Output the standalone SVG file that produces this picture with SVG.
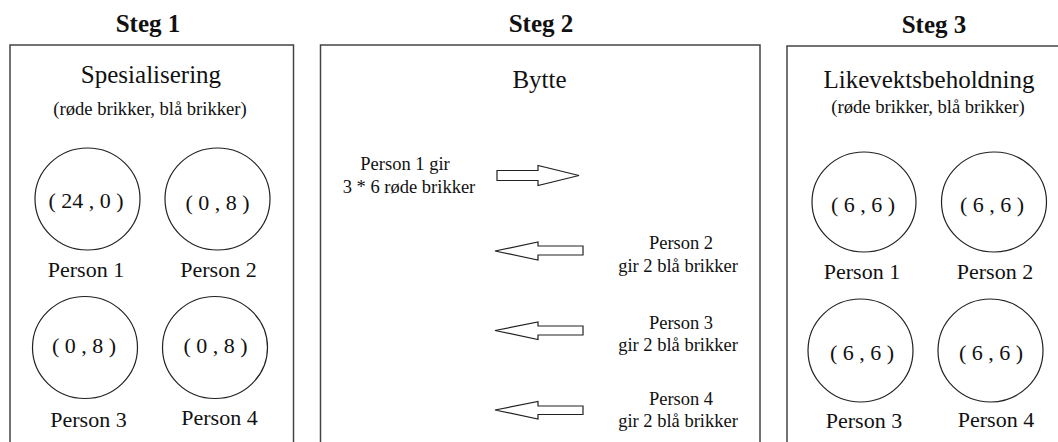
<svg xmlns="http://www.w3.org/2000/svg" width="1058" height="442" viewBox="0 0 1058 442">
  <style>
    text { font-family: "Liberation Serif", "Times New Roman", serif; fill: #111; text-anchor: middle; }
    .step { font-weight: bold; font-size: 25px; }
    .head { font-size: 25px; }
    .sub { font-size: 18.6px; }
    .val { font-size: 22px; }
    .name { font-size: 22px; }
    .note { font-size: 18.5px; }
    .panel { fill: #fff; stroke: #444; stroke-width: 1.5; }
    .person { fill: #fff; stroke: #222; stroke-width: 1.2; }
    .arrow { fill: #fff; stroke: #222; stroke-width: 1.2; stroke-linejoin: miter; }
  </style>
  <rect width="1058" height="442" fill="#fff"/>

  <g font-family="Liberation Serif, Times New Roman, serif">
  <!-- step titles -->
  <text class="step" x="148" y="32">Steg 1</text>
  <text class="step" x="541" y="32">Steg 2</text>
  <text class="step" x="934" y="33">Steg 3</text>

  <!-- panel 1: specialisation -->
  <g id="panel1">
    <rect class="panel" x="10" y="45" width="283.5" height="420"/>
    <text class="head" x="151" y="83">Spesialisering</text>
    <text class="sub" x="150" y="115">(røde brikker, blå brikker)</text>
  </g>
  <g id="p1-person1">
    <ellipse class="person" cx="87.5" cy="199" rx="52.5" ry="51"/>
    <text class="val" x="86" y="208" xml:space="preserve">( 24 , 0 )</text>
    <text class="name" x="86" y="277">Person 1</text>
  </g>
  <g id="p1-person2">
    <ellipse class="person" cx="217.5" cy="199" rx="52.5" ry="51"/>
    <text class="val" x="217.5" y="210" xml:space="preserve">( 0 , 8 )</text>
    <text class="name" x="218.5" y="277">Person 2</text>
  </g>
  <g id="p1-person3">
    <ellipse class="person" cx="85" cy="347.5" rx="52.5" ry="51"/>
    <text class="val" x="84" y="353" xml:space="preserve">( 0 , 8 )</text>
    <text class="name" x="88.5" y="427">Person 3</text>
  </g>
  <g id="p1-person4">
    <ellipse class="person" cx="215" cy="347.5" rx="52.5" ry="51"/>
    <text class="val" x="215.5" y="353" xml:space="preserve">( 0 , 8 )</text>
    <text class="name" x="219.5" y="425">Person 4</text>
  </g>

  <!-- panel 2: exchange -->
  <g id="panel2">
    <rect class="panel" x="320.5" y="45" width="439.5" height="420"/>
    <text class="head" x="539.5" y="88">Bytte</text>
    <text class="note" x="405" y="170">Person 1 gir</text>
    <text class="note" x="409" y="193">3 * 6 røde brikker</text>
    <text class="note" x="681" y="249">Person 2</text>
    <text class="note" x="678" y="272">gir 2 blå brikker</text>
    <text class="note" x="681" y="329">Person 3</text>
    <text class="note" x="678" y="351">gir 2 blå brikker</text>
    <text class="note" x="681" y="405">Person 4</text>
    <text class="note" x="678" y="427">gir 2 blå brikker</text>
  </g>

  <!-- block arrows for the transfers -->
  <g id="connectors">
    <polygon class="arrow" points="497,170.5 538,170.5 538,165.5 579,175.5 538,185.5 538,180.5 497,180.5"/>
    <polygon class="arrow" points="583,246 538,246 538,242 495,251 538,260 538,255 583,255"/>
    <polygon class="arrow" points="583,326 538,326 538,322 495,330.5 538,339.5 538,335 583,335"/>
    <polygon class="arrow" points="583,406 538,406 538,401.5 495,410 538,419 538,414.5 583,414.5"/>
  </g>

  <!-- panel 3: equilibrium holdings -->
  <g id="panel3">
    <rect class="panel" x="787" y="46" width="300" height="420"/>
    <text class="head" x="929" y="88">Likevektsbeholdning</text>
    <text class="sub" x="928" y="113">(røde brikker, blå brikker)</text>
  </g>
  <g id="p3-person1">
    <ellipse class="person" cx="864" cy="202" rx="52" ry="50"/>
    <text class="val" x="863" y="212" xml:space="preserve">( 6 , 6 )</text>
    <text class="name" x="862" y="279">Person 1</text>
  </g>
  <g id="p3-person2">
    <ellipse class="person" cx="994" cy="202" rx="52.5" ry="50"/>
    <text class="val" x="992" y="212" xml:space="preserve">( 6 , 6 )</text>
    <text class="name" x="995" y="279">Person 2</text>
  </g>
  <g id="p3-person3">
    <ellipse class="person" cx="860.5" cy="350.5" rx="52.5" ry="51.5"/>
    <text class="val" x="862" y="360" xml:space="preserve">( 6 , 6 )</text>
    <text class="name" x="864" y="428">Person 3</text>
  </g>
  <g id="p3-person4">
    <ellipse class="person" cx="990.5" cy="350.5" rx="52.5" ry="51.5"/>
    <text class="val" x="991" y="360" xml:space="preserve">( 6 , 6 )</text>
    <text class="name" x="996" y="427">Person 4</text>
  </g>
  </g>
</svg>
